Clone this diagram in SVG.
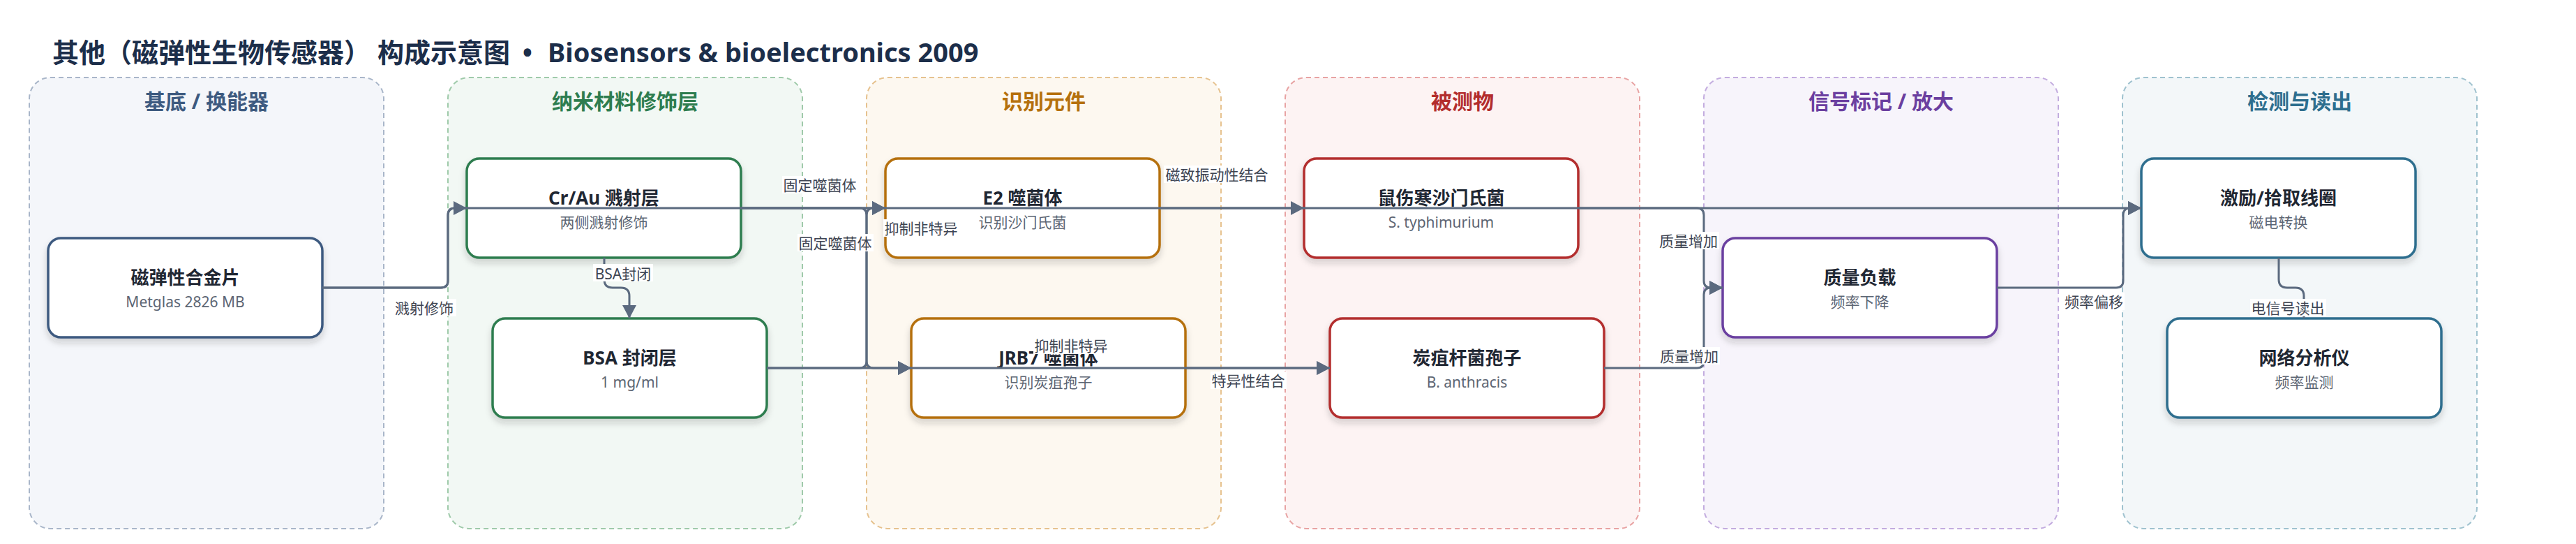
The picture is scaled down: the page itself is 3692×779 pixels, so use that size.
<svg xmlns="http://www.w3.org/2000/svg" width="3692" height="779" viewBox="0 0 3692 779">
<defs>
<style>
text{font-family:'Noto Sans','Noto Sans CJK SC',sans-serif}
.title{font-size:38px;font-weight:700;fill:#1c2e4a}
.ct{font-size:30px;font-weight:700;text-anchor:middle}
.cl{stroke-width:2;stroke-dasharray:7 5}
.nb{fill:#fff;stroke-width:3.5;filter:url(#sh)}
.nt{font-size:26px;font-weight:700;fill:#1f2733;text-anchor:middle}
.ns{font-size:21px;fill:#5c6573;text-anchor:middle}
.e{fill:none;stroke:#5b6a7f;stroke-width:3}
.ea{fill:none;stroke:#5b6a7f;stroke-width:3;marker-end:url(#ar)}
.lb{fill:#fff}
.lt{font-size:21px;fill:#3d4452;text-anchor:middle}
</style>
<filter id="sh" x="-10%" y="-20%" width="120%" height="150%">
<feDropShadow dx="0" dy="6" stdDeviation="5" flood-color="#1a2433" flood-opacity="0.18"/>
</filter>
<marker id="ar" markerUnits="userSpaceOnUse" viewBox="0 0 19 20" refX="19" refY="10" markerWidth="19" markerHeight="20" orient="auto">
<path d="M0,0 L19,10 L0,20 z" fill="#5b6a7f"/>
</marker>
</defs>
<rect width="3692" height="779" fill="#fff"/>
<text class="title" x="75" y="89">其他（磁弹性生物传感器） 构成示意图<tspan x="756" text-anchor="middle">•</tspan><tspan x="785">Biosensors &amp; bioelectronics 2009</tspan></text>

<g id="cluster-substrate">
<rect class="cl" x="42" y="111" width="508" height="646" rx="30" fill="#f4f6fa" stroke="#a9b6c9"/>
<text class="ct" x="296" y="156" fill="#3d5a80">基底 / 换能器</text>
</g>
<g id="cluster-nano">
<rect class="cl" x="642" y="111" width="508" height="646" rx="30" fill="#f2f8f4" stroke="#9fcaaa"/>
<text class="ct" x="896" y="156" fill="#2e7d4f">纳米材料修饰层</text>
</g>
<g id="cluster-recog">
<rect class="cl" x="1242" y="111" width="508" height="646" rx="30" fill="#fdf8f0" stroke="#e6c28f"/>
<text class="ct" x="1496" y="156" fill="#b5700c">识别元件</text>
</g>
<g id="cluster-analyte">
<rect class="cl" x="1842" y="111" width="508" height="646" rx="30" fill="#fdf3f3" stroke="#e8a3a3"/>
<text class="ct" x="2096" y="156" fill="#b32d2d">被测物</text>
</g>
<g id="cluster-signal">
<rect class="cl" x="2442" y="111" width="508" height="646" rx="30" fill="#f7f4fb" stroke="#c3acdf"/>
<text class="ct" x="2696" y="156" fill="#6b3fa0">信号标记 / 放大</text>
</g>
<g id="cluster-detect">
<rect class="cl" x="3042" y="111" width="508" height="646" rx="30" fill="#f3f7f9" stroke="#9fc2cf"/>
<text class="ct" x="3296" y="156" fill="#2d6e8e">检测与读出</text>
</g>

<g id="node-alloy">
<rect class="nb" x="69" y="341" width="393" height="142" rx="18" stroke="#3d5a80"/>
<text class="nt" x="265.5" y="407">磁弹性合金片</text>
<text class="ns" x="265.5" y="440">Metglas 2826 MB</text>
</g>
<g id="node-crau">
<rect class="nb" x="669" y="227" width="393" height="142" rx="18" stroke="#2e7d4f"/>
<text class="nt" x="865.5" y="293">Cr/Au 溅射层</text>
<text class="ns" x="865.5" y="326">两侧溅射修饰</text>
</g>
<g id="node-bsa">
<rect class="nb" x="706" y="456" width="393" height="142" rx="18" stroke="#2e7d4f"/>
<text class="nt" x="902.5" y="522">BSA 封闭层</text>
<text class="ns" x="902.5" y="555">1 mg/ml</text>
</g>
<g id="node-e2">
<rect class="nb" x="1269" y="227" width="393" height="142" rx="18" stroke="#b5700c"/>
<text class="nt" x="1465.5" y="293">E2 噬菌体</text>
<text class="ns" x="1465.5" y="326">识别沙门氏菌</text>
</g>
<g id="node-jrb7">
<rect class="nb" x="1306" y="456" width="393" height="142" rx="18" stroke="#b5700c"/>
<text class="nt" x="1502.5" y="522">JRB7 噬菌体</text>
<text class="ns" x="1502.5" y="555">识别炭疽孢子</text>
</g>
<g id="node-salmonella">
<rect class="nb" x="1869" y="227" width="393" height="142" rx="18" stroke="#b32d2d"/>
<text class="nt" x="2065.5" y="293">鼠伤寒沙门氏菌</text>
<text class="ns" x="2065.5" y="326">S. typhimurium</text>
</g>
<g id="node-anthracis">
<rect class="nb" x="1906" y="456" width="393" height="142" rx="18" stroke="#b32d2d"/>
<text class="nt" x="2102.5" y="522">炭疽杆菌孢子</text>
<text class="ns" x="2102.5" y="555">B. anthracis</text>
</g>
<g id="node-mass">
<rect class="nb" x="2469" y="341" width="393" height="142" rx="18" stroke="#6b3fa0"/>
<text class="nt" x="2665.5" y="407">质量负载</text>
<text class="ns" x="2665.5" y="440">频率下降</text>
</g>
<g id="node-coil">
<rect class="nb" x="3069" y="227" width="393" height="142" rx="18" stroke="#2d6e8e"/>
<text class="nt" x="3265.5" y="293">激励/拾取线圈</text>
<text class="ns" x="3265.5" y="326">磁电转换</text>
</g>
<g id="node-analyzer">
<rect class="nb" x="3106" y="456" width="393" height="142" rx="18" stroke="#2d6e8e"/>
<text class="nt" x="3302.5" y="522">网络分析仪</text>
<text class="ns" x="3302.5" y="555">频率监测</text>
</g>

<g id="connectors">
<path class="ea" d="M462 412 H632 Q642 412 642 402 V308 Q642 298 652 298 H669"/>
<path class="ea" d="M462 412 H632 Q642 412 642 402 V308 Q642 298 652 298 H3069"/>
<path class="ea" d="M866 369 V400 Q866 412 878 412 H890 Q902 412 902 424 V456"/>
<path class="ea" d="M1062 298 H1269"/>
<path class="ea" d="M1062 298 H1232 Q1242 298 1242 308 V517 Q1242 527 1252 527 H1306"/>
<path class="ea" d="M1099 527 H1232 Q1242 527 1242 517 V308 Q1242 298 1252 298 H1269"/>
<path class="ea" d="M1099 527 H1306"/>
<path class="ea" d="M1306 527 H1906"/>
<path class="ea" d="M1662 298 H1869"/>
<path class="ea" d="M1699 527 H1906"/>
<path class="ea" d="M2262 298 H2432 Q2442 298 2442 308 V402 Q2442 412 2452 412 H2469"/>
<path class="ea" d="M2299 527 H2432 Q2442 527 2442 517 V422 Q2442 412 2452 412 H2469"/>
<path class="ea" d="M2862 412 H3033 Q3043 412 3043 402 V308 Q3043 298 3053 298 H3069"/>
<path class="ea" d="M3266 369 V400 Q3266 412 3278 412 H3290 Q3302 412 3302 424 V456"/>

<rect class="lb" x="562" y="428" width="92" height="25"/>
<text class="lt" x="608" y="449">溅射修饰</text>
<rect class="lb" x="850" y="378" width="86" height="25"/>
<text class="lt" x="893" y="400">BSA封闭</text>
<rect class="lb" x="1121" y="252" width="109" height="25"/>
<text class="lt" x="1175" y="273">固定噬菌体</text>
<rect class="lb" x="1143" y="335" width="109" height="25"/>
<text class="lt" x="1197" y="356">固定噬菌体</text>
<rect class="lb" x="1266" y="314" width="109" height="25"/>
<text class="lt" x="1320" y="335">抑制非特异</text>
<rect class="lb" x="1481" y="482" width="109" height="25"/>
<text class="lt" x="1535" y="503">抑制非特异</text>
<rect class="lb" x="1668" y="237" width="152" height="25"/>
<text class="lt" x="1744" y="258">磁致振动性结合</text>
<rect class="lb" x="1735" y="532" width="109" height="25"/>
<text class="lt" x="1789" y="553">特异性结合</text>
<rect class="lb" x="2376" y="332" width="88" height="25"/>
<text class="lt" x="2420" y="353">质量增加</text>
<rect class="lb" x="2377" y="497" width="88" height="25"/>
<text class="lt" x="2421" y="518">质量增加</text>
<rect class="lb" x="2957" y="419" width="88" height="25"/>
<text class="lt" x="3001" y="440">频率偏移</text>
<rect class="lb" x="3225" y="428" width="109" height="25"/>
<text class="lt" x="3279" y="449">电信号读出</text>
</g>
</svg>
